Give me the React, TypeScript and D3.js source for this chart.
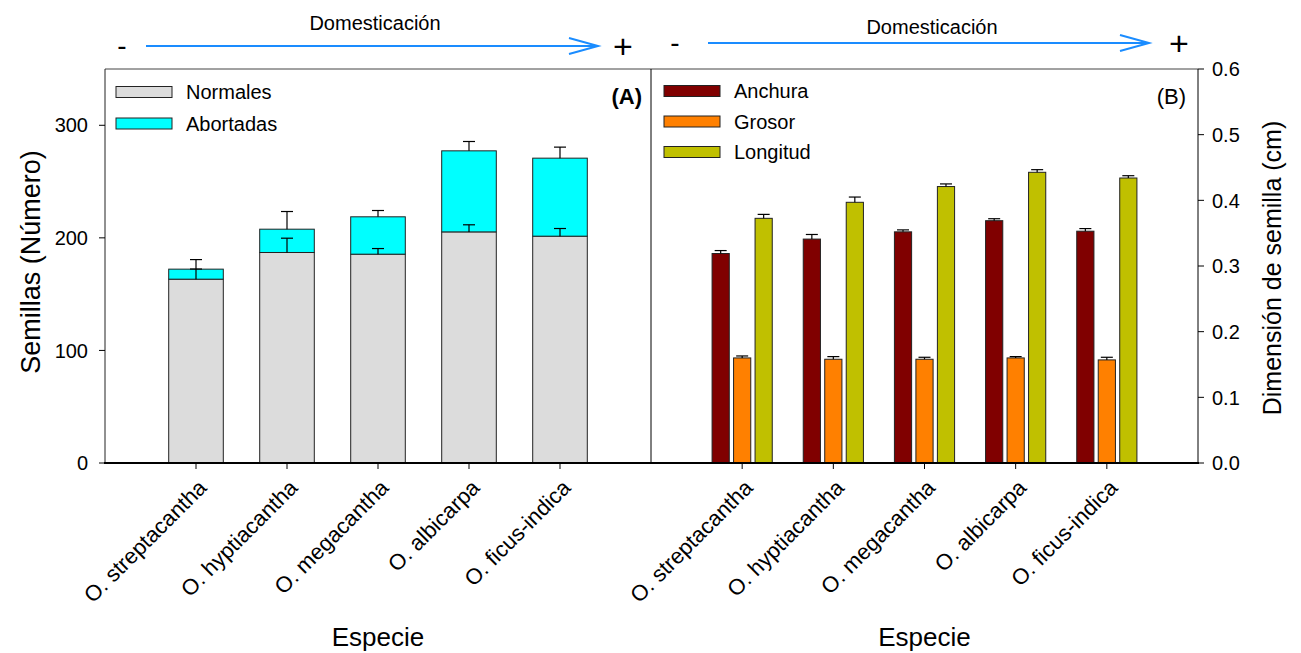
import * as d3 from "d3";

const species = ["O. streptacantha", "O. hyptiacantha", "O. megacantha", "O. albicarpa", "O. ficus-indica"];

// panel A - seeds per fruit
const normales = [163.3, 187, 185.5, 205.3, 201.5];
const normalesErr = [9, 12.7, 5, 6.3, 6.8];
const abortadas = [8.9, 20.7, 33.2, 72.0, 69.3];
const totalErr = [8.5, 15.7, 5.6, 8.3, 9.8];
const yTicksA = [0, 100, 200, 300];

// panel B - seed dimensions (cm)
const anchura = [0.319, 0.341, 0.352, 0.369, 0.353];
const anchuraErr = [0.0045, 0.007, 0.003, 0.003, 0.004];
const grosor = [0.16, 0.158, 0.158, 0.16, 0.157];
const grosorErr = [0.003, 0.004, 0.003, 0.002, 0.004];
const longitud = [0.3726, 0.397, 0.421, 0.4427, 0.434];
const longitudErr = [0.006, 0.008, 0.004, 0.004, 0.0035];
const yTicksB = [0, 0.1, 0.2, 0.3, 0.4, 0.5, 0.6];

const FONT = "'Liberation Sans', Arial, sans-serif";

const W = 1301, H = 653;
const top = 69, base = 463;
const xA = d3.scaleLinear().domain([0, 6]).range([105, 651]);
const yA = d3.scaleLinear().domain([0, 350]).range([base, top]);
const xB = d3.scaleLinear().domain([0, 6]).range([651, 1198]);
const yB = d3.scaleLinear().domain([0, 0.6]).range([base, top]);

const seriesB = [
  { name: "Anchura", values: anchura, err: anchuraErr, color: "#800000" },
  { name: "Grosor", values: grosor, err: grosorErr, color: "#ff8000" },
  { name: "Longitud", values: longitud, err: longitudErr, color: "#c0c000" },
];
const sub = d3.scaleBand<string>().domain(seriesB.map((s) => s.name)).range([-0.33, 0.33]).paddingInner(0.2);

function ErrBar({ x, y0, y1 }: { x: number; y0: number; y1: number }) {
  return (
    <g stroke="#000" strokeWidth={1.2}>
      <line x1={x} x2={x} y1={y0} y2={y1} />
      <line x1={x - 6} x2={x + 6} y1={y1} y2={y1} />
    </g>
  );
}

function Domest({ minusX, x0, x1, plusX, textX, textY, y }: any) {
  return (
    <g>
      <text x={textX} y={textY} textAnchor="middle" fontSize={20}>Domesticación</text>
      <text x={minusX} y={y + 9} textAnchor="middle" fontSize={28}>-</text>
      <line x1={x0} x2={x1} y1={y} y2={y} stroke="#1a8cff" strokeWidth={2} />
      <path d={`M${x1 - 29},${y - 8} L${x1},${y} L${x1 - 29},${y + 8}`} fill="none" stroke="#1a8cff" strokeWidth={2} />
      <text x={plusX} y={y + 12} textAnchor="middle" fontSize={34}>+</text>
    </g>
  );
}

export default function App() {
  const bwA = xA(0.6) - xA(0);
  const bwB = xB(sub.bandwidth()) - xB(0);
  return (
    <svg width={W} height={H} style={{ position: "absolute", left: 0, top: 0, background: "#fff" }}>
      <g fontFamily={FONT} fill="#000">
        {/* top annotations */}
        <Domest minusX={122} x0={146} x1={598} plusX={623} textX={375} textY={30} y={46} />
        <Domest minusX={675} x0={708} x1={1149} plusX={1179} textX={932} textY={34} y={43} />

        {/* panel A bars */}
        {species.map((s, i) => {
          const cx = xA(i + 1);
          const tot = normales[i] + abortadas[i];
          return (
            <g key={s}>
              <rect x={cx - bwA / 2} y={yA(normales[i])} width={bwA} height={yA(0) - yA(normales[i])} fill="#dcdcdc" stroke="#222" strokeWidth={1} />
              <rect x={cx - bwA / 2} y={yA(tot)} width={bwA} height={yA(normales[i]) - yA(tot)} fill="#00ffff" stroke="#222" strokeWidth={1} />
              <ErrBar x={cx} y0={yA(tot)} y1={yA(tot + totalErr[i])} />
              <ErrBar x={cx} y0={yA(normales[i])} y1={yA(normales[i] + normalesErr[i])} />
            </g>
          );
        })}

        {/* panel B bars */}
        {species.map((s, i) => (
          <g key={s}>
            {seriesB.map((sr) => {
              const cx = xB(i + 1 + sub(sr.name)! + sub.bandwidth() / 2);
              const v = sr.values[i];
              return (
                <g key={sr.name}>
                  <rect x={cx - bwB / 2} y={yB(v)} width={bwB} height={yB(0) - yB(v)} fill={sr.color} stroke="#222" strokeWidth={1} />
                  <ErrBar x={cx} y0={yB(v)} y1={yB(v + sr.err[i])} />
                </g>
              );
            })}
          </g>
        ))}

        {/* frame */}
        <line x1={105} x2={1198} y1={top} y2={top} stroke="#444" strokeWidth={1} />
        <line x1={105} x2={105} y1={top} y2={base} stroke="#222" strokeWidth={1} />
        <line x1={651} x2={651} y1={top} y2={base} stroke="#000" strokeWidth={1} />
        <line x1={1198} x2={1198} y1={top} y2={base} stroke="#000" strokeWidth={1} />
        <line x1={104} x2={1199} y1={base} y2={base} stroke="#000" strokeWidth={2} />

        {/* left axis */}
        {yTicksA.map((t) => (
          <g key={t}>
            <line x1={99} x2={105} y1={yA(t)} y2={yA(t)} stroke="#000" />
            <text x={88} y={yA(t)} dy="0.36em" textAnchor="end" fontSize={20}>{t}</text>
          </g>
        ))}
        <text transform={`translate(40,262) rotate(-90)`} textAnchor="middle" fontSize={27}>Semillas (Número)</text>

        {/* right axis */}
        {yTicksB.map((t) => (
          <g key={t}>
            <line x1={1198} x2={1204} y1={yB(t)} y2={yB(t)} stroke="#000" />
            <text x={1212} y={yB(t)} dy="0.36em" textAnchor="start" fontSize={20}>{t.toFixed(1)}</text>
          </g>
        ))}
        <text transform={`translate(1281,268) rotate(-90)`} textAnchor="middle" fontSize={25}>Dimensión de semilla (cm)</text>

        {/* category ticks + labels */}
        {[xA, xB].map((xs, k) => (
          <g key={k}>
            {species.map((s, i) => (
              <g key={s}>
                <line x1={xs(i + 1)} x2={xs(i + 1)} y1={base} y2={base + 6} stroke="#000" />
                <text transform={`translate(${xs(i + 1) + 12},${base + 26}) rotate(-45)`} textAnchor="end" fontSize={22}>{s}</text>
              </g>
            ))}
            <text x={(xs(0) + xs(6)) / 2} y={646} textAnchor="middle" fontSize={26}>Especie</text>
          </g>
        ))}

        {/* legend A */}
        {[{ n: "Normales", c: "#dcdcdc" }, { n: "Abortadas", c: "#00ffff" }].map((d, i) => (
          <g key={d.n}>
            <rect x={116} y={86.5 + i * 31.5} width={56} height={11} fill={d.c} stroke="#222" />
            <text x={186} y={92 + i * 31.5} dy="0.36em" fontSize={20}>{d.n}</text>
          </g>
        ))}
        <text x={642} y={96} dy="0.36em" textAnchor="end" fontSize={22} fontWeight="bold">(A)</text>

        {/* legend B */}
        {seriesB.map((d, i) => (
          <g key={d.name}>
            <rect x={664} y={85.5 + i * 30.5} width={56} height={11} fill={d.color} stroke="#222" />
            <text x={734} y={91 + i * 30.5} dy="0.36em" fontSize={20}>{d.name}</text>
          </g>
        ))}
        <text x={1186} y={96} dy="0.36em" textAnchor="end" fontSize={22}>(B)</text>
      </g>
    </svg>
  );
}
